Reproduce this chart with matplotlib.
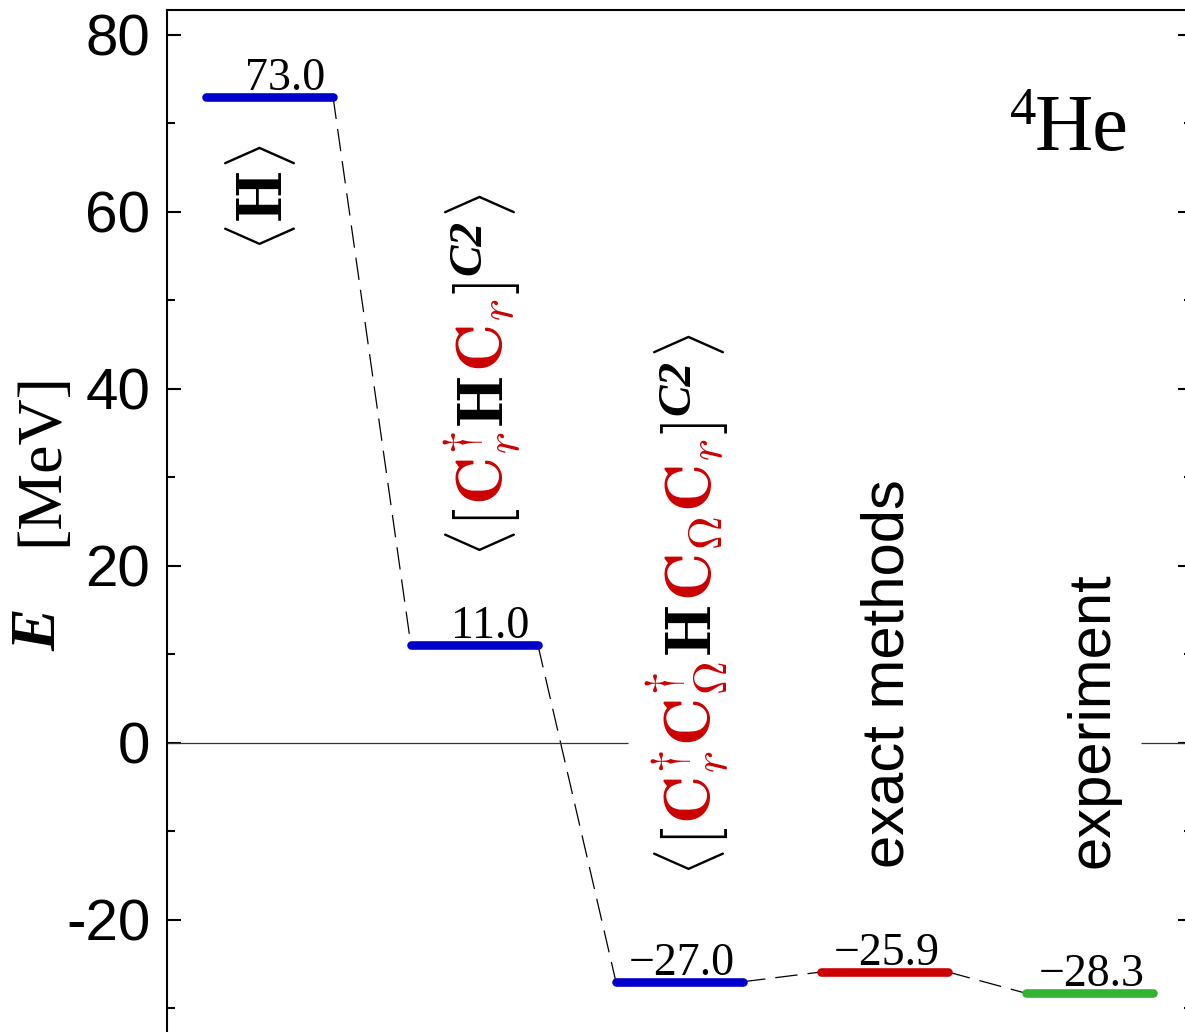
import matplotlib
matplotlib.use('Agg')
import matplotlib.pyplot as plt
import matplotlib.transforms as mtransforms
from matplotlib.ticker import MultipleLocator

plt.rcParams['font.family'] = ['Liberation Sans', 'DejaVu Sans']
plt.rcParams['mathtext.fontset'] = 'cm'
plt.rcParams['axes.unicode_minus'] = False

# level scheme data
levels = [1, 2, 3, 4, 5]
energies = [73.0, 11.0, -27.0, -25.9, -28.3]
colors = ['#0000cc', '#0000cc', '#0000cc', '#cc0000', '#33b233']
names = ['exact methods', 'experiment']
RED = '#cc0000'
hw = 0.31

# rotated labels built from pieces: (text, colour, fontsize, rise in px, gap before in px)
FS = 48
BR = 43
SUP = ('C2', 'k', 34, 22, 8)
lab_H = [(r'$\langle$', 'k', BR, 0, 0), (r'$\mathbf{H}$', 'k', FS, 0, 2),
         (r'$\rangle$', 'k', BR, 0, 2)]
lab_C1 = [(r'$\langle$', 'k', BR, 0, 0), (r'$[$', 'k', FS, 0, 4),
          (r'$\mathbf{C}^{\dagger}_{r}$', RED, FS, 0, 3),
          (r'$\mathbf{H}$', 'k', FS, 0, 4),
          (r'$\mathbf{C}_{r}$', RED, FS, 0, 4), (r'$]$', 'k', FS, 0, 3),
          SUP, (r'$\rangle$', 'k', BR, 0, 2)]
lab_C2 = [(r'$\langle$', 'k', BR, 0, 0), (r'$[$', 'k', FS, 0, 4),
          (r'$\mathbf{C}^{\dagger}_{r}\mathbf{C}^{\dagger}_{\mathbf{\Omega}}$', RED, FS, 0, 3),
          (r'$\mathbf{H}$', 'k', FS, 0, 4),
          (r'$\mathbf{C}_{\mathbf{\Omega}}\mathbf{C}_{r}$', RED, FS, 0, 4),
          (r'$]$', 'k', FS, 0, 3), SUP, (r'$\rangle$', 'k', BR, 0, 2)]

fig = plt.figure(figsize=(11.85, 10.32), dpi=100)
ax = fig.add_axes([0.1409, -0.0199, 0.865, 1.0102])
ax.set_xlim(0.5, 5.5)
ax.set_ylim(-35, 82.8)
renderer = fig.canvas.get_renderer()


def stacked(x, y, pieces):
    off = 0
    for s, c, size, rise, gap in pieces:
        off += gap
        tr = mtransforms.offset_copy(ax.transData, fig=fig, x=-rise, y=off, units='dots')
        kw = {}
        if s == 'C2':
            kw = dict(family='Liberation Serif', weight='bold', style='italic')
        t = ax.text(x, y, s, color=c, fontsize=size, rotation=90,
                    rotation_mode='anchor', ha='left', va='baseline', transform=tr, **kw)
        off += t.get_window_extent(renderer=renderer).height


for x, e, c in zip(levels, energies, colors):
    ax.plot([x - hw, x + hw], [e, e], color=c, lw=6.2, solid_capstyle='round', zorder=3)
    ax.text(x + 0.27, e + 0.8, f'{e:.1f}'.replace('-', '\u2212'), ha='right',
            va='baseline', family='Liberation Serif', fontsize=33)

for i in range(len(levels) - 1):
    ax.plot([levels[i] + hw, levels[i + 1] - hw], [energies[i], energies[i + 1]],
            color='k', lw=0.9, dashes=(18, 8), zorder=2)

ax.hlines(0, 0.5, 2.75, color='0.2', lw=0.9)
ax.hlines(0, 5.25, 5.5, color='0.2', lw=0.9)

stacked(1.063, 55.6, lab_H)
stacked(2.138, 21.0, lab_C1)
stacked(3.155, -15.0, lab_C2)
for x, s in zip(levels[3:], names):
    ax.text(x + 0.094, -14.1, s, fontsize=43, rotation=90, rotation_mode='anchor',
            ha='left', va='baseline')

# 4He mark, top right
he = ax.text(5.19, 67.0, 'He', family='Liberation Serif', fontsize=58,
             ha='right', va='baseline')
wpx = he.get_window_extent(renderer=renderer).width
ax.text(5.19, 67.0, '4', family='Liberation Serif', fontsize=38, ha='right',
        va='baseline',
        transform=mtransforms.offset_copy(ax.transData, fig=fig, x=-wpx + 2, y=26, units='dots'))

ax.set_xticks([])
ax.yaxis.set_major_locator(MultipleLocator(20))
ax.yaxis.set_minor_locator(MultipleLocator(10))
ax.tick_params(axis='y', which='both', direction='in', left=True, right=True,
               labelsize=42, pad=12, width=1.5)
ax.tick_params(axis='y', which='major', length=10)
ax.tick_params(axis='y', which='minor', length=5.5)
for sp in ax.spines.values():
    sp.set_linewidth(1.5)

fig.text(0.034, 0.39, 'E', family='Liberation Serif', weight='bold', style='italic',
         fontsize=46, rotation=90, ha='center', va='center')
fig.text(0.036, 0.555, '[MeV]', family='Liberation Serif', fontsize=46,
         rotation=90, ha='center', va='center')

fig.savefig('out.png', dpi=100)
